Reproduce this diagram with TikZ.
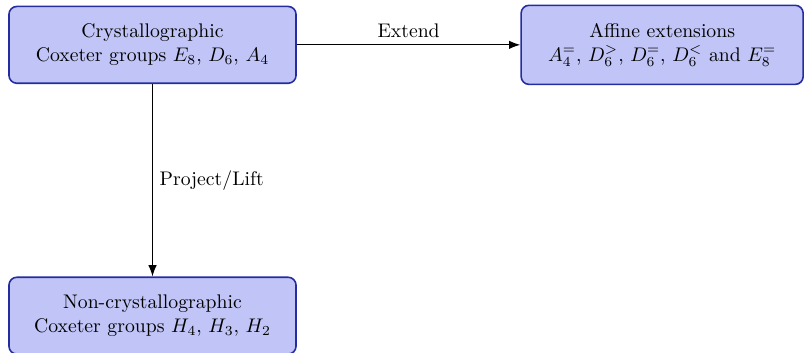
\documentclass[tikz,border=0pt]{standalone}
\usepackage{amsmath,amssymb}
\usepackage{tikz}
\usetikzlibrary{arrows.meta}
\definecolor{boxfill}{RGB}{192,196,246}
\definecolor{boxline}{RGB}{36,44,160}

\begin{document}
\begin{tikzpicture}[>=Latex]
\useasboundingbox (0,0) rectangle (14.34,-6.28);

% 三个分组
\node[draw=boxline,thick,rounded corners=4pt,fill=boxfill,minimum width=5.12cm,minimum height=1.37cm,align=center] (cryst) at (2.72,-0.80) {Crystallographic\\Coxeter groups $E_8$, $D_6$, $A_4$};

\node[draw=boxline,thick,rounded corners=4pt,fill=boxfill,minimum width=5.03cm,minimum height=1.41cm,align=center] (affine) at (11.81,-0.80) {Affine extensions\\$A_4^{=}$, $D_6^{>}$, $D_6^{=}$, $D_6^{<}$ and $E_8^{=}$};

\node[draw=boxline,thick,rounded corners=4pt,fill=boxfill,minimum width=5.12cm,minimum height=1.37cm,align=center] (noncryst) at (2.72,-5.63) {Non-crystallographic\\Coxeter groups $H_4$, $H_3$, $H_2$};

% 连接线
\draw[->,semithick] (cryst) -- node[above] {Extend} (affine);
\draw[->,semithick] (cryst) -- node[right] {Project/Lift} (noncryst);
\end{tikzpicture}
\end{document}
